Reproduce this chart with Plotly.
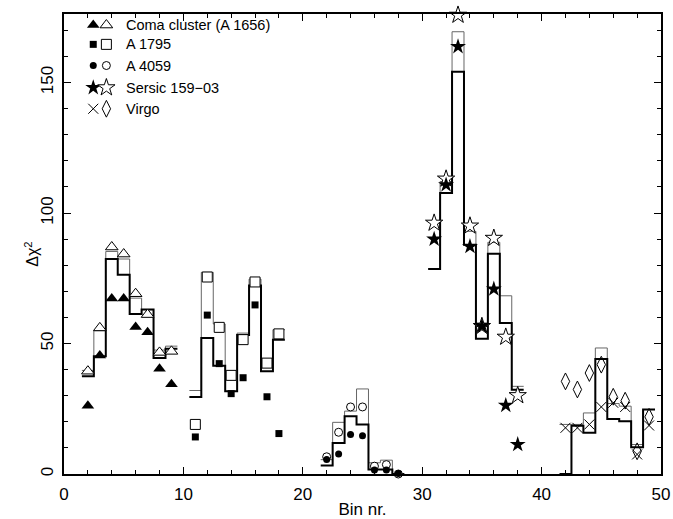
import plotly.graph_objects as go

# ---- Coma cluster (A 1656)
coma_bins = [2, 3, 4, 5, 6, 7, 8, 9]
coma_model_a = [37.5, 45.1, 82.4, 76.4, 61.3, 63.0, 44.5, 48.0]
coma_model_b = [39.7, 54.9, 85.3, 82.4, 67.4, 63.0, 47.5, 49.0]
coma_filled = [26.2, 45.4, 67.3, 67.3, 56.3, 54.3, 40.3, 34.4]
coma_open = [39.4, 56.0, 87.0, 84.3, 69.1, 61.1, 46.6, 47.0]

# ---- A 1795
a1795_bins = [11, 12, 13, 14, 15, 16, 17, 18]
a1795_model_a = [29.5, 52.1, 41.5, 31.7, 53.3, 72.2, 39.4, 51.5]
a1795_model_b = [32.0, 77.3, 57.5, 39.5, 54.0, 74.7, 44.1, 55.3]
a1795_filled = [14.2, 60.9, 42.3, 30.8, 36.9, 64.8, 29.6, 15.5]
a1795_open = [19.0, 75.5, 56.2, 37.8, 51.5, 73.6, 42.5, 53.7]

# ---- A 4059
a4059_bins = [22, 23, 24, 25, 26, 27, 28]
a4059_model_a = [3.3, 11.9, 22.1, 19.0, 1.7, 1.7, 0.0]
a4059_model_b = [5.5, 19.8, 24.1, 32.6, 4.3, 5.3, 0.0]
a4059_filled = [5.6, 7.7, 15.1, 14.7, 1.5, 1.5, 0.2]
a4059_open = [6.6, 16.0, 25.7, 25.7, 3.0, 3.6, 0.0]

# ---- Sersic 159-03
sersic_bins = [31, 32, 33, 34, 35, 36, 37, 38]
sersic_model_a = [78.6, 107.7, 154.2, 87.9, 51.8, 84.4, 57.9, 32.3]
sersic_model_b = [78.6, 112.1, 169.5, 93.0, 57.9, 88.8, 68.3, 33.6]
sersic_filled = [90.0, 110.8, 163.8, 87.2, 56.6, 70.9, 26.3, 11.3]
sersic_open = [96.2, 113.1, 175.9, 95.1, 56.6, 90.4, 52.5, 30.1]

# ---- Virgo
virgo_bins = [42, 43, 44, 45, 46, 47, 48, 49]
virgo_model_a = [0.0, 18.5, 15.8, 44.1, 21.1, 20.2, 10.3, 24.7]
virgo_model_b = [19.0, 19.0, 23.4, 48.3, 27.0, 26.0, 11.3, 24.7]
virgo_cross = [17.7, 17.7, 19.0, 25.7, 27.3, 25.7, 7.5, 18.6]
virgo_diamond = [35.5, 32.4, 38.7, 41.9, 29.6, 28.1, 8.7, 21.9]

legend_labels = ["Coma cluster (A 1656)", "A 1795", "A 4059", "Sersic 159\u221203", "Virgo"]

FONT = "Liberation Sans, Arial, sans-serif"

groups = [
    (coma_bins, coma_model_a, coma_model_b, coma_filled, coma_open,
     dict(symbol="triangle-up", size=11, color="black"),
     dict(symbol="triangle-up", size=11, color="white", line=dict(color="black", width=1))),
    (a1795_bins, a1795_model_a, a1795_model_b, a1795_filled, a1795_open,
     dict(symbol="square", size=7, color="black"),
     dict(symbol="square", size=10, color="white", line=dict(color="black", width=1))),
    (a4059_bins, a4059_model_a, a4059_model_b, a4059_filled, a4059_open,
     dict(symbol="circle", size=7, color="black"),
     dict(symbol="circle", size=8, color="white", line=dict(color="black", width=1))),
    (sersic_bins, sersic_model_a, sersic_model_b, sersic_filled, sersic_open,
     dict(symbol="star", size=12, color="black"),
     dict(symbol="star", size=13, color="white", line=dict(color="black", width=1))),
    (virgo_bins, virgo_model_a, virgo_model_b, virgo_cross, virgo_diamond,
     dict(symbol="x-thin-open", size=10, color="black", line=dict(color="black", width=1)),
     dict(symbol="diamond-tall-open", size=12, color="black", line=dict(color="black", width=1))),
]


def step_xy(bins, vals):
    xs, ys = [], []
    for b, v in zip(bins, vals):
        xs += [b - 0.5, b + 0.5]
        ys += [v, v]
    return xs, ys


fig = go.Figure()

for bins, ma, mb, filled, opened, fm, om in groups:
    xs, ys = step_xy(bins, mb)
    fig.add_trace(go.Scatter(x=xs, y=ys, mode="lines",
                             line=dict(color="#666666", width=1), showlegend=False))
    xs, ys = step_xy(bins, ma)
    fig.add_trace(go.Scatter(x=xs, y=ys, mode="lines",
                             line=dict(color="black", width=2), showlegend=False))

for bins, ma, mb, filled, opened, fm, om in groups:
    fig.add_trace(go.Scatter(x=bins, y=opened, mode="markers", marker=om,
                             showlegend=False, cliponaxis=False))
    fig.add_trace(go.Scatter(x=bins, y=filled, mode="markers", marker=fm,
                             showlegend=False, cliponaxis=False))

# hand-built key in the upper-left corner (fractional overlay axes)
key_rows = [0.976, 0.934, 0.888, 0.840, 0.794]
for i, (g, label) in enumerate(zip(groups, legend_labels)):
    fm, om = g[5], g[6]
    fig.add_trace(go.Scatter(x=[0.049], y=[key_rows[i]], mode="markers", marker=fm,
                             xaxis="x2", yaxis="y2", showlegend=False, cliponaxis=False))
    fig.add_trace(go.Scatter(x=[0.071], y=[key_rows[i]], mode="markers", marker=om,
                             xaxis="x2", yaxis="y2", showlegend=False, cliponaxis=False))
    fig.add_annotation(x=0.101, y=key_rows[i], xref="x2", yref="y2", text=label,
                       showarrow=False, xanchor="left", yanchor="middle",
                       font=dict(family=FONT, size=14.5, color="black"))

# y-axis title placed explicitly beside the tick labels
fig.add_annotation(x=-0.055, y=0.477, xref="paper", yref="paper",
                   text="\u0394\u03c7<sup>2</sup>", textangle=-90, showarrow=False,
                   xanchor="center", yanchor="middle",
                   font=dict(family=FONT, size=16, color="black"))

axis_common = dict(
    showline=True, linecolor="black", linewidth=1.5, mirror="allticks",
    ticks="inside", tickcolor="black", tickwidth=1, showgrid=False, zeroline=False,
    automargin=False,
    tickfont=dict(family=FONT, size=17, color="black"),
)

fig.update_layout(
    width=673, height=519,
    margin=dict(l=64, r=12, t=14, b=45),
    paper_bgcolor="white", plot_bgcolor="white",
    showlegend=False,
    xaxis=dict(range=[0, 50], dtick=10, tick0=0, ticklen=7,
               minor=dict(ticks="inside", dtick=2, ticklen=4, tickcolor="black"),
               title=dict(text="Bin nr.", font=dict(family=FONT, size=17, color="black"),
                          standoff=0),
               ticklabelstandoff=4, **axis_common),
    yaxis=dict(range=[0, 176.3], dtick=50, tick0=0, ticklen=7, tickangle=-90,
               minor=dict(ticks="inside", dtick=10, ticklen=4, tickcolor="black"),
               ticklabelstandoff=2, **axis_common),
    xaxis2=dict(range=[0, 1], overlaying="x", visible=False, domain=[0, 1]),
    yaxis2=dict(range=[0, 1], overlaying="y", visible=False),
)

fig.write_html("out.html")
